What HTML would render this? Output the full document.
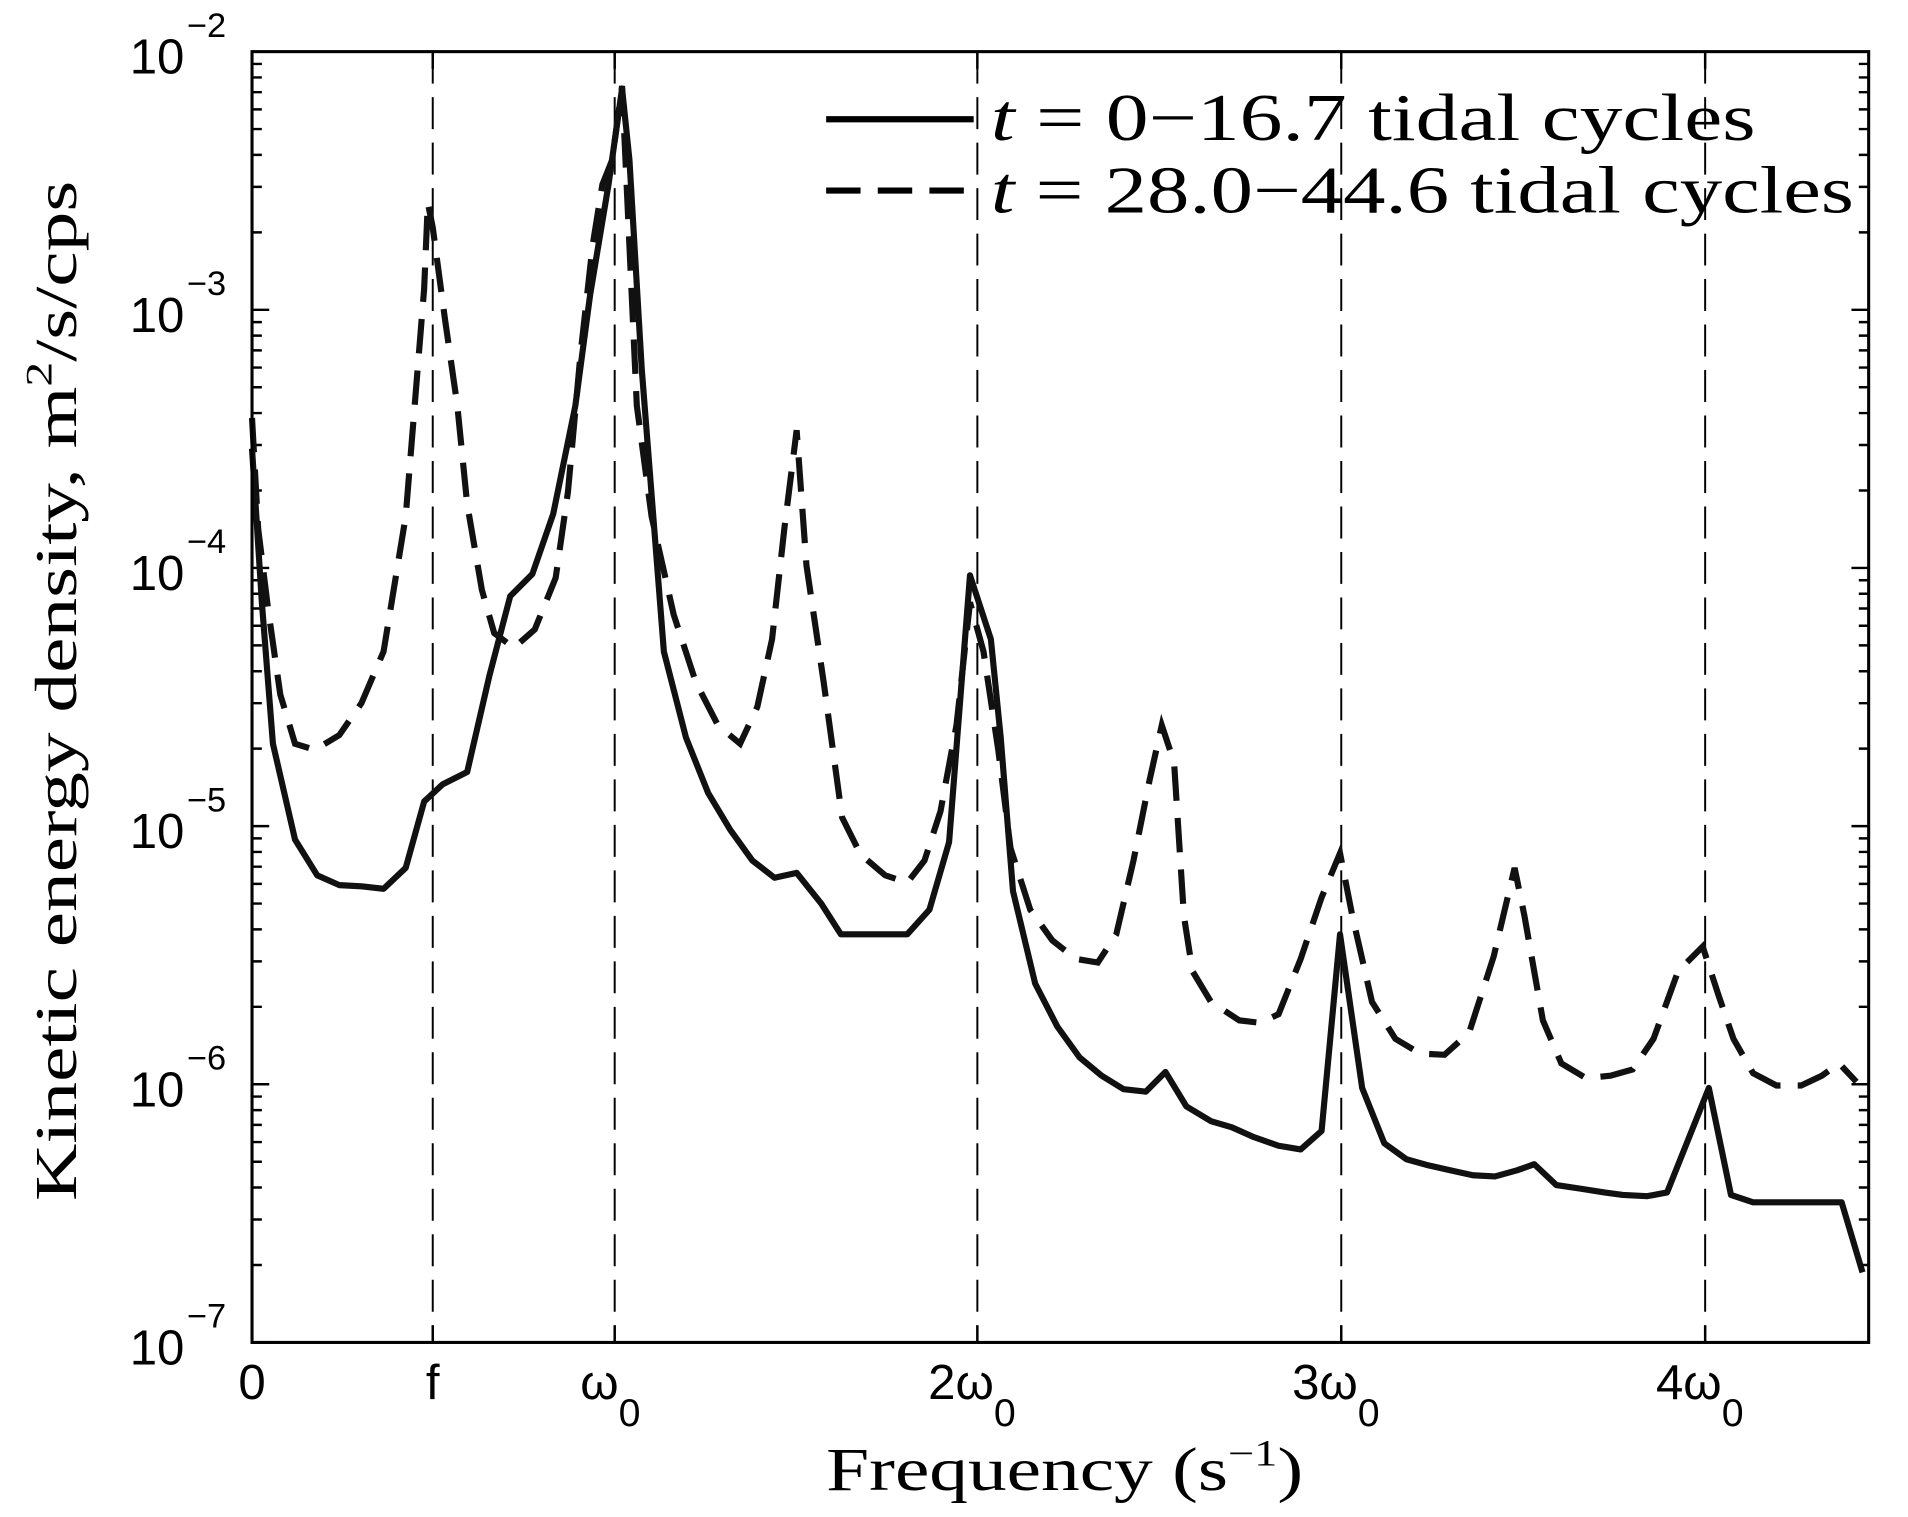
<!DOCTYPE html>
<html><head><style>html,body{margin:0;padding:0;background:#fff;width:1908px;height:1517px;overflow:hidden}</style></head>
<body>
<svg width="1908" height="1517" viewBox="0 0 1552 1234" preserveAspectRatio="none" xmlns="http://www.w3.org/2000/svg">
<rect width="1552" height="1234" fill="#fff"/>
<g stroke="#000" stroke-width="1.6" stroke-dasharray="26,11" fill="none">
<line x1="352" y1="42" x2="352" y2="1092"/>
<line x1="500" y1="42" x2="500" y2="1092"/>
<line x1="795" y1="42" x2="795" y2="1092"/>
<line x1="1091" y1="42" x2="1091" y2="1092"/>
<line x1="1387" y1="42" x2="1387" y2="1092"/>
</g>
<g stroke="#000" stroke-width="2" fill="none">
<path d="M205 1092h14M205 1029h8M205 992h8M205 966h8M205 945h8M205 929h8M205 915h8M205 903h8M205 892h8
M205 882h14M205 819h8M205 782h8M205 756h8M205 735h8M205 719h8M205 705h8M205 693h8M205 682h8
M205 672h14M205 609h8M205 572h8M205 546h8M205 525h8M205 509h8M205 495h8M205 483h8M205 472h8
M205 462h14M205 399h8M205 362h8M205 336h8M205 315h8M205 299h8M205 285h8M205 273h8M205 262h8
M205 252h14M205 189h8M205 152h8M205 126h8M205 105h8M205 89h8M205 75h8M205 63h8M205 52h8"/>
<path d="M1520 1092h-14M1520 1029h-8M1520 992h-8M1520 966h-8M1520 945h-8M1520 929h-8M1520 915h-8M1520 903h-8M1520 892h-8
M1520 882h-14M1520 819h-8M1520 782h-8M1520 756h-8M1520 735h-8M1520 719h-8M1520 705h-8M1520 693h-8M1520 682h-8
M1520 672h-14M1520 609h-8M1520 572h-8M1520 546h-8M1520 525h-8M1520 509h-8M1520 495h-8M1520 483h-8M1520 472h-8
M1520 462h-14M1520 399h-8M1520 362h-8M1520 336h-8M1520 315h-8M1520 299h-8M1520 285h-8M1520 273h-8M1520 262h-8
M1520 252h-14M1520 189h-8M1520 152h-8M1520 126h-8M1520 105h-8M1520 89h-8M1520 75h-8M1520 63h-8M1520 52h-8"/>
<path d="M352 1092v-14M500 1092v-14M795 1092v-14M1091 1092v-14M1387 1092v-14M352 42v14M500 42v14M795 42v14M1091 42v14M1387 42v14"/>
</g>
<polyline fill="none" stroke="#111" stroke-width="5" stroke-linejoin="round" points="205,365 213,490 222,605 240,683 258,712 276,720 294,721 312,723 330,706 345,652 360,638 380,628 398,550 415,485 433,467 450,418 468,330 480,240 495,150 506,72 512,130 522,300 540,530 558,600 576,645 594,675 612,700 630,714 648,710 668,735 684,760 702,760 720,760 738,760 756,740 772,685 789,468 806,520 814,600 824,725 842,800 860,835 878,860 896,875 914,886 932,888 948,872 965,900 985,912 1002,917 1020,925 1040,932 1058,935 1075,920 1090,760 1108,885 1126,930 1144,943 1162,948 1180,952 1198,956 1216,957 1234,952 1248,947 1266,964 1286,967 1305,970 1320,972 1340,973 1356,970 1372,930 1390,885 1408,972 1426,978 1445,978 1460,978 1480,978 1498,978 1515,1035"/>
<polyline fill="none" stroke="#111" stroke-width="5" stroke-dasharray="28,14" points="205,340 210,430 218,495 228,565 240,605 256,610 276,598 294,572 312,530 330,420 345,235 348,165 352,185 362,260 372,330 380,410 392,480 402,515 418,527 435,512 452,470 462,400 472,290 482,200 490,150 498,130 506,70 512,200 518,330 530,420 548,500 566,555 584,590 602,605 616,575 628,520 638,430 648,350 656,460 670,555 685,665 700,695 720,712 738,718 752,700 765,660 778,590 789,490 800,530 812,610 822,690 838,740 856,765 875,780 893,783 908,760 922,700 935,635 945,590 955,620 963,745 970,790 985,815 1008,830 1025,832 1040,825 1058,780 1075,730 1090,694 1100,745 1116,815 1135,845 1155,857 1175,858 1195,840 1215,778 1232,706 1240,745 1255,830 1270,865 1290,877 1310,875 1328,870 1345,845 1365,790 1385,770 1398,810 1410,845 1426,873 1445,883 1465,883 1482,875 1496,865 1510,880"/>
<rect x="205" y="42" width="1315" height="1050" fill="none" stroke="#000" stroke-width="2.5"/>
<line x1="672" y1="97" x2="792" y2="97" stroke="#000" stroke-width="5"/>
<line x1="672" y1="155" x2="792" y2="155" stroke="#000" stroke-width="5" stroke-dasharray="28,14"/>
<g font-family="Liberation Serif, serif" font-size="54" fill="#000">
<text x="806" y="114" textLength="622" lengthAdjust="spacingAndGlyphs"><tspan font-style="italic">t</tspan> = 0−16.7 tidal cycles</text>
<text x="806" y="173" textLength="702" lengthAdjust="spacingAndGlyphs"><tspan font-style="italic">t</tspan> = 28.0−44.6 tidal cycles</text>
<text x="672" y="1212" font-size="50" textLength="388" lengthAdjust="spacingAndGlyphs">Frequency (s<tspan font-size="30" dy="-20">−1</tspan><tspan dy="20">)</tspan></text>
<text transform="translate(62,562) rotate(-90)" text-anchor="middle" font-size="48" textLength="830" lengthAdjust="spacingAndGlyphs">Kinetic energy density, m<tspan font-size="30" dy="-20">2</tspan><tspan dy="20">/s/cps</tspan></text>
</g>
<g font-family="Liberation Sans, sans-serif" font-size="40" fill="#000">
<text x="150" y="60" text-anchor="end">10</text><text x="152" y="30" font-size="28">−2</text>
<text x="150" y="270" text-anchor="end">10</text><text x="152" y="240" font-size="28">−3</text>
<text x="150" y="480" text-anchor="end">10</text><text x="152" y="450" font-size="28">−4</text>
<text x="150" y="690" text-anchor="end">10</text><text x="152" y="660" font-size="28">−5</text>
<text x="150" y="900" text-anchor="end">10</text><text x="152" y="870" font-size="28">−6</text>
<text x="150" y="1110" text-anchor="end">10</text><text x="152" y="1080" font-size="28">−7</text>
<text x="205" y="1138" text-anchor="middle">0</text>
<text x="352" y="1138" text-anchor="middle">f</text>
<text x="472" y="1138">ω<tspan font-size="32" dy="22">0</tspan></text>
<text x="755" y="1138">2ω<tspan font-size="32" dy="22">0</tspan></text>
<text x="1051" y="1138">3ω<tspan font-size="32" dy="22">0</tspan></text>
<text x="1347" y="1138">4ω<tspan font-size="32" dy="22">0</tspan></text>
</g>
</svg>
</body></html>
